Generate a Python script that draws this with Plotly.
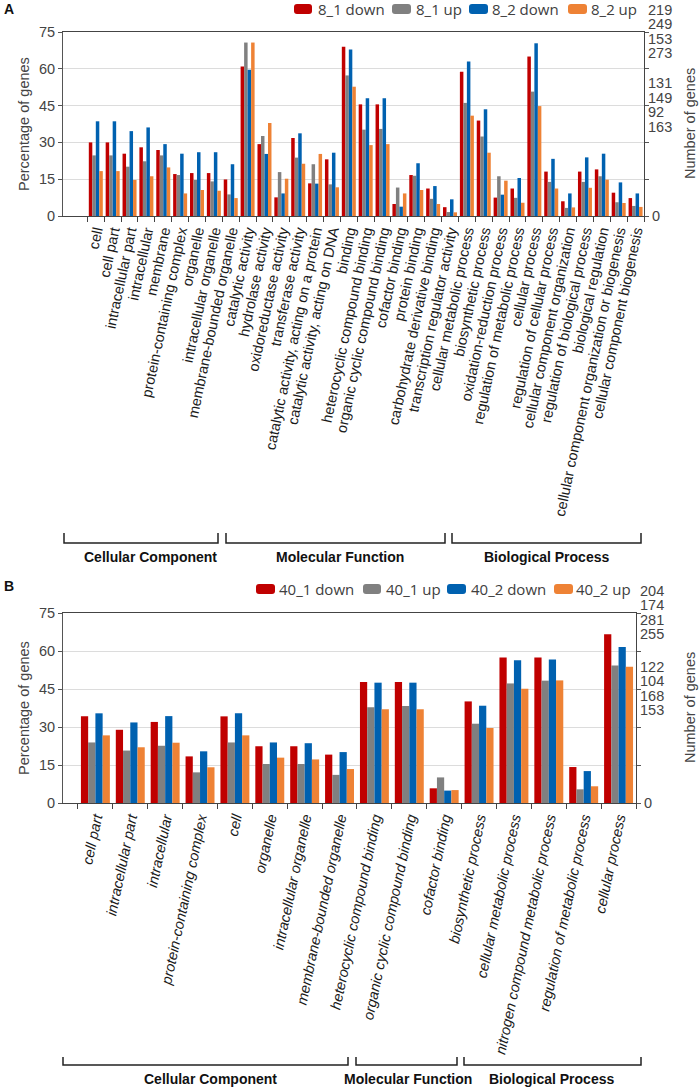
import plotly.graph_objects as go

# ---------------- data ----------------
cats_A = ["cell", "cell part", "intracellular part", "intracellular", "membrane",
          "protein-containing complex", "organelle", "intracellular organelle",
          "membrane-bounded organelle",
          "catalytic activity", "hydrolase activity", "oxidoreductase activity",
          "transferase activity", "catalytic activity, acting on a protein",
          "catalytic activity, acting on DNA", "binding", "heterocyclic compound binding",
          "organic cyclic compound binding", "cofactor binding", "protein binding",
          "carbohydrate derivative binding", "transcription regulator activity",
          "cellular metabolic process", "biosynthetic process", "oxidation-reduction process",
          "regulation of metabolic process", "cellular process", "regulation of cellular process",
          "cellular component organization", "regulation of biological process",
          "biological regulation", "cellular component organization or biogenesis",
          "cellular component biogenesis"]
A_8_1_down = [30.0, 30.0, 25.4, 28.0, 26.9, 17.1, 17.5, 17.5, 14.9,
              60.9, 29.3, 7.6, 31.8, 13.3, 23.1, 69.0, 45.5, 45.5, 4.9, 16.7, 11.2, 3.6,
              58.8, 38.9, 7.5, 11.2, 65.0, 18.1, 6.0, 18.1, 19.0, 9.5, 7.3]
A_8_1_up = [24.7, 24.7, 20.1, 22.3, 24.7, 16.7, 14.7, 14.1, 8.8,
            70.7, 32.6, 17.9, 23.8, 21.1, 12.9, 57.3, 35.2, 35.5, 11.6, 16.4, 7.0, 1.6,
            46.1, 32.4, 16.2, 7.4, 50.7, 13.9, 3.3, 13.9, 16.2, 5.6, 4.1]
A_8_2_down = [38.6, 38.6, 34.6, 36.1, 29.3, 25.4, 26.0, 26.0, 21.1,
              59.6, 25.3, 9.2, 33.7, 13.2, 25.8, 67.9, 48.0, 48.0, 3.8, 21.5, 12.2, 6.8,
              63.0, 43.5, 8.7, 15.5, 70.4, 23.3, 9.2, 23.9, 25.4, 13.7, 9.2]
A_8_2_up = [18.3, 18.3, 14.7, 16.2, 19.8, 9.2, 10.6, 10.3, 7.3,
            70.7, 37.9, 15.2, 21.3, 25.3, 11.7, 52.7, 28.9, 29.3, 9.2, 10.6, 4.9, 1.5,
            40.9, 25.8, 14.4, 5.4, 44.8, 11.2, 3.5, 11.5, 14.8, 5.3, 3.7]
A_names = ["8_1 down", "8_1 up", "8_2 down", "8_2 up"]
A_right_top = ["219", "249", "153", "273"]
A_right_mid = ["131", "149", "92", "163"]

cats_B = ["cell part", "intracellular part", "intracellular", "protein-containing complex",
          "cell", "organelle", "intracellular organelle", "membrane-bounded organelle",
          "heterocyclic compound binding", "organic cyclic compound binding", "cofactor binding",
          "biosynthetic process", "cellular metabolic process",
          "nitrogen compound metabolic process", "regulation of metabolic process",
          "cellular process"]
B_40_1_down = [34.2, 28.9, 32.0, 18.4, 34.2, 22.4, 22.4, 19.1, 47.8, 47.8, 5.8,
               40.1, 57.4, 57.4, 14.2, 66.6]
B_40_1_up = [23.9, 20.7, 22.6, 12.1, 23.9, 15.4, 15.4, 11.1, 37.8, 38.3, 10.1,
             31.3, 47.2, 48.3, 5.4, 54.3]
B_40_2_down = [35.4, 31.8, 34.3, 20.4, 35.4, 23.9, 23.6, 20.1, 47.5, 47.5, 4.9,
               38.4, 56.3, 56.6, 12.6, 61.6]
B_40_2_up = [26.7, 22.0, 23.8, 14.1, 26.7, 17.9, 17.2, 13.4, 37.0, 37.0, 5.1,
             29.6, 45.1, 48.4, 6.6, 53.8]
B_names = ["40_1 down", "40_1 up", "40_2 down", "40_2 up"]
B_right_top = ["204", "174", "281", "255"]
B_right_mid = ["122", "104", "168", "153"]

groups = ["Cellular Component", "Molecular Function", "Biological Process"]
y_ticks = [0, 15, 30, 45, 60, 75]

# ---------------- styles ----------------
COLORS = ["#C00000", "#808080", "#0061B0", "#EE8235"]
W, H = 700, 1089
FONT = "Liberation Sans, Arial, sans-serif"


def px(x):
    return x / W


def py(y):
    return 1 - y / H


fig = go.Figure()

series_A = [A_8_1_down, A_8_1_up, A_8_2_down, A_8_2_up]
series_B = [B_40_1_down, B_40_1_up, B_40_2_down, B_40_2_up]

for name, vals, col in zip(A_names, series_A, COLORS):
    fig.add_trace(go.Bar(x=cats_A, y=vals, name=name, marker_color=col,
                         marker_line_width=0, xaxis="x", yaxis="y", showlegend=False))
fig.add_trace(go.Scatter(x=[cats_A[0]], y=[None], xaxis="x", yaxis="y2",
                         showlegend=False, hoverinfo="skip"))
for name, vals, col in zip(B_names, series_B, COLORS):
    fig.add_trace(go.Bar(x=cats_B, y=vals, name=name, marker_color=col,
                         marker_line_width=0, xaxis="x2", yaxis="y3", showlegend=False))
fig.add_trace(go.Scatter(x=[cats_B[0]], y=[None], xaxis="x2", yaxis="y4",
                         showlegend=False, hoverinfo="skip"))

# panel geometry (pixels)
A_box = dict(x0=63, x1=644, y0=32, y1=216)
B_box = dict(x0=63, x1=636, y0=613, y1=803)


def xax(box, anchor, cats, italic=False):
    txt = ["<i>%s</i>" % c for c in cats] if italic else list(cats)
    return dict(domain=[px(box["x0"]), px(box["x1"])], anchor=anchor, type="category",
                tickmode="array", tickvals=list(cats), ticktext=txt,
                tickangle=-78, ticks="outside", tickson="boundaries", ticklen=5,
                tickcolor="#444", showline=True, linecolor="#444", linewidth=1,
                mirror=True, automargin=False, showgrid=False,
                tickfont=dict(family=FONT, size=14.5, color="#1a1a1a"))


def yax(box, anchor):
    return dict(domain=[py(box["y1"]), py(box["y0"])], anchor=anchor, range=[0, 75],
                tickvals=y_ticks, ticks="outside", ticklen=4, tickcolor="#555",
                showline=True, linecolor="#555", linewidth=1, showgrid=True,
                gridcolor="#dcdcdc", gridwidth=1, zeroline=False, automargin=False,
                tickfont=dict(family=FONT, size=14.5, color="#444"))


def yax_r(over, anchor):
    return dict(overlaying=over, side="right", anchor=anchor, range=[0, 75],
                tickvals=y_ticks, ticktext=["0", "", "", "", "", ""], ticks="outside",
                ticklen=4, tickcolor="#555", showline=True, linecolor="#444",
                linewidth=1, showgrid=False, zeroline=False, automargin=False,
                tickfont=dict(family=FONT, size=14.5, color="#444"))


fig.update_layout(
    width=W, height=H, margin=dict(l=0, r=0, t=0, b=0),
    paper_bgcolor="white", plot_bgcolor="white",
    barmode="group", bargap=0.17, bargroupgap=0.0,
    showlegend=False,
    xaxis=xax(A_box, "y", cats_A), yaxis=yax(A_box, "x"), yaxis2=yax_r("y", "x"),
    xaxis2=xax(B_box, "y3", cats_B, italic=True), yaxis3=yax(B_box, "x2"),
    yaxis4=yax_r("y3", "x2"),
)

ann = []
shapes = []

# panel letters
for letter, yy in (("A", 9), ("B", 586)):
    ann.append(dict(text="<b>%s</b>" % letter, x=px(2), y=py(yy), xref="paper",
                    yref="paper", xanchor="left", yanchor="middle", showarrow=False,
                    font=dict(family=FONT, size=14, color="#111")))

# axis titles
for box in (A_box, B_box):
    yc = (box["y0"] + box["y1"]) / 2
    ann.append(dict(text="Percentage of genes", x=px(24), y=py(yc), xref="paper",
                    yref="paper", xanchor="center", yanchor="middle", textangle=-90,
                    showarrow=False, font=dict(family=FONT, size=14.5, color="#444")))
    ann.append(dict(text="Number of genes", x=px(690), y=py(yc), xref="paper",
                    yref="paper", xanchor="center", yanchor="middle", textangle=-90,
                    showarrow=False, font=dict(family=FONT, size=14.5, color="#444")))

# right-hand stacked count labels
shifts = [22.5, 8, -6.5, -21]
for yref, xr, top, mid in (("y", A_box["x1"], A_right_top, A_right_mid),
                            ("y3", B_box["x1"], B_right_top, B_right_mid)):
    for labels, yv in ((top, 75), (mid, 45)):
        for lab, s in zip(labels, shifts):
            ann.append(dict(text=lab, x=px(xr + 2), y=yv, xref="paper", yref=yref,
                            xanchor="left", yanchor="middle", yshift=s, showarrow=False,
                            font=dict(family=FONT, size=14.5, color="#444")))


# legends (drawn to match the reference layout)
def legend(names, ymid, boxes):
    for name, col, (bx0, bx1, tx) in zip(names, COLORS, boxes):
        h = 5
        x0, x1 = px(bx0), px(bx1)
        y0, y1 = py(ymid + h), py(ymid - h)
        rx, ry = px(3), 3 / H
        path = (f"M {x0+rx},{y0} L {x1-rx},{y0} Q {x1},{y0} {x1},{y0+ry} "
                f"L {x1},{y1-ry} Q {x1},{y1} {x1-rx},{y1} L {x0+rx},{y1} "
                f"Q {x0},{y1} {x0},{y1-ry} L {x0},{y0+ry} Q {x0},{y0} {x0+rx},{y0} Z")
        shapes.append(dict(type="path", path=path, xref="paper", yref="paper",
                           fillcolor=col, line=dict(width=0)))
        ann.append(dict(text=name, x=px(tx), y=py(ymid), xref="paper", yref="paper",
                        xanchor="left", yanchor="middle", showarrow=False,
                        font=dict(family="Open Sans, sans-serif", size=15, color="#404040")))


legend(A_names, 9, [(294, 312, 316), (392, 411, 414), (469, 488, 490), (568, 587, 589)])
legend(B_names, 589, [(256, 275, 277), (363, 381, 384), (447, 466, 469), (554, 573, 574)])


# brackets and group labels
def bracket(spans, yline, ytop, ytext, centers):
    for (a, b), c, g in zip(spans, centers, groups):
        shapes.append(dict(type="path", xref="paper", yref="paper",
                           path=f"M {px(a)},{py(ytop)} L {px(a)},{py(yline)} "
                                f"L {px(b)},{py(yline)} L {px(b)},{py(ytop)}",
                           line=dict(color="#222", width=1.5)))
        ann.append(dict(text="<b>%s</b>" % g, x=px(c), y=py(ytext), xref="paper",
                        yref="paper", xanchor="center", yanchor="middle",
                        showarrow=False, font=dict(family=FONT, size=14, color="#111")))


bracket([(64, 218), (226, 445), (452, 641)], 543, 533, 557, [150, 340, 546])
bracket([(63, 348), (356, 457), (464, 641)], 1065, 1057, 1079, [210, 408, 551])

fig.update_layout(annotations=ann, shapes=shapes)
# remove the browser's default 8px page margin so the figure fills the window exactly
fig.write_html("out.html",
               config={"displayModeBar": False},
               post_script="document.body.style.margin='0';"
                           "document.body.style.overflow='hidden';")
